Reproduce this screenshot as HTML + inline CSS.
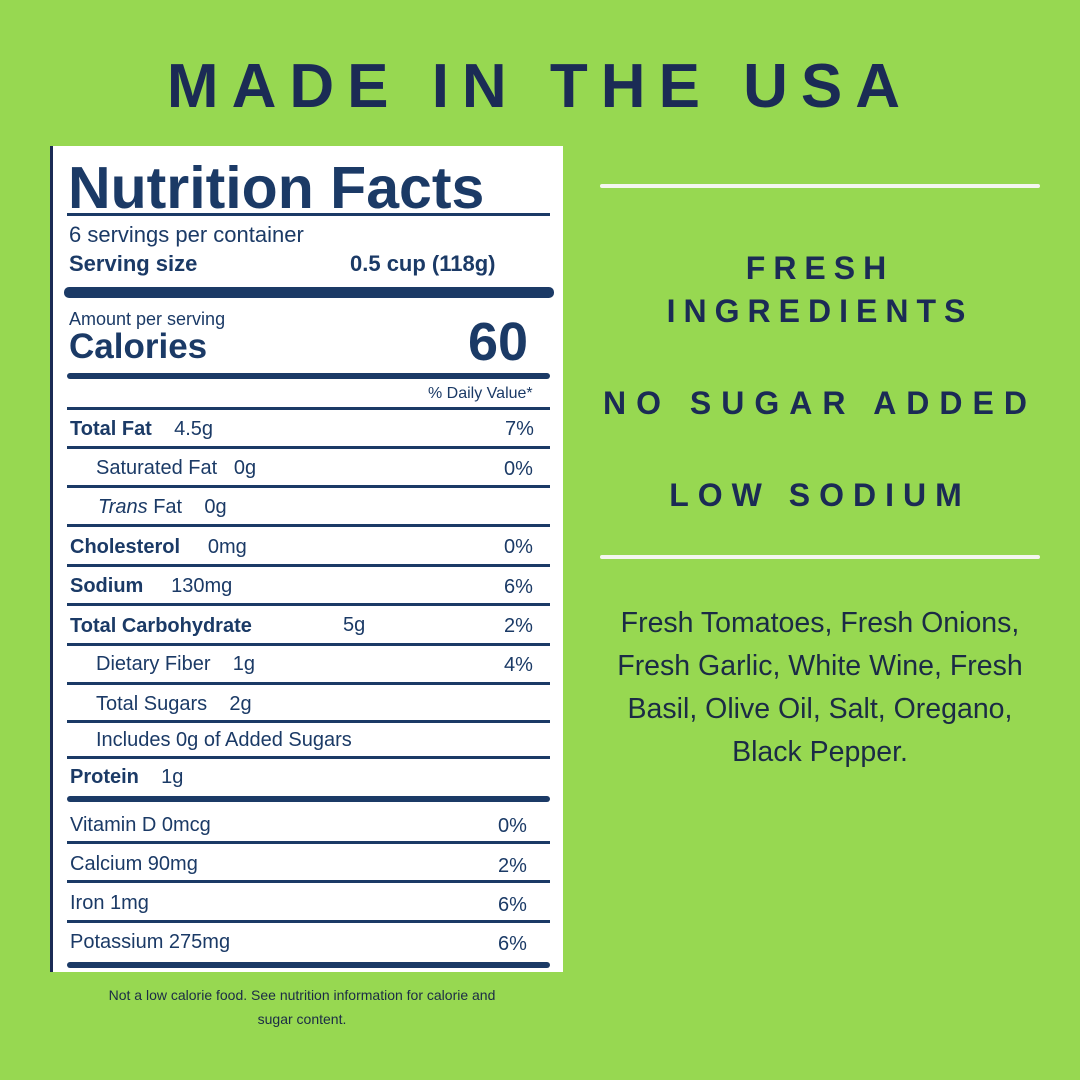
<!DOCTYPE html>
<html><head><style>
body{margin:0;width:1080px;height:1080px;background:#97d851;position:relative;overflow:hidden;font-family:"Liberation Sans",sans-serif;color:#1b2b55}
.a{position:absolute;white-space:nowrap}
.t{font-weight:bold;letter-spacing:0.28em}
.lab{position:absolute;left:50px;top:146px;width:513px;height:826px;background:#fff;border-left:3px solid #1b2b55;box-sizing:border-box}
.ln{position:absolute;left:67px;width:483px;background:#1b3a66}
.r{position:absolute;font-size:20px;color:#1b3a66;white-space:nowrap}
.b{font-weight:bold}
.wl{position:absolute;left:600px;width:440px;height:4px;background:#f4f6ef;border-radius:2px}
</style></head><body>
<div class="a t" style="left:0;width:1080px;text-align:center;top:51px;font-size:62px;letter-spacing:13px;padding-left:0px;box-sizing:border-box">MADE IN THE USA</div>
<div class="lab"></div>
<div class="r b" style="left:68px;top:154px;font-size:59px;letter-spacing:0px">Nutrition Facts</div>
<div class="ln" style="top:213px;height:3px"></div>
<div class="r" style="left:69px;top:222px;font-size:22px">6 servings per container</div>
<div class="r b" style="left:69px;top:251px;font-size:22px">Serving size</div>
<div class="r b" style="left:350px;top:251px;font-size:22px">0.5 cup (118g)</div>
<div class="ln" style="top:287px;left:64px;width:490px;height:11px;border-radius:5px"></div>
<div class="r" style="left:69px;top:309px;font-size:18px">Amount per serving</div>
<div class="r b" style="left:69px;top:327px;font-size:35px">Calories</div>
<div class="r b" style="left:468px;top:311px;font-size:54px">60</div>
<div class="ln" style="top:373px;height:6px;border-radius:3px"></div>
<div class="r" style="left:428px;top:385px;font-size:16px">% Daily Value*</div>
<div class="ln" style="top:407px;height:3px"></div>

<div class="r" style="left:70px;top:418px"><span class="b">Total Fat</span>&nbsp;&nbsp;&nbsp;&nbsp;4.5g</div><div class="r" style="left:505px;top:418px">7%</div>
<div class="ln" style="top:446px;height:3px"></div>
<div class="r" style="left:96px;top:457px">Saturated Fat&nbsp;&nbsp;&nbsp;0g</div><div class="r" style="left:504px;top:458px">0%</div>
<div class="ln" style="top:485px;height:3px"></div>
<div class="r" style="left:98px;top:496px"><i>Trans</i> Fat&nbsp;&nbsp;&nbsp;&nbsp;0g</div>
<div class="ln" style="top:524px;height:3px"></div>
<div class="r" style="left:70px;top:536px"><span class="b">Cholesterol</span>&nbsp;&nbsp;&nbsp;&nbsp;&nbsp;0mg</div><div class="r" style="left:504px;top:536px">0%</div>
<div class="ln" style="top:564px;height:3px"></div>
<div class="r" style="left:70px;top:575px"><span class="b">Sodium</span>&nbsp;&nbsp;&nbsp;&nbsp;&nbsp;130mg</div><div class="r" style="left:504px;top:576px">6%</div>
<div class="ln" style="top:603px;height:3px"></div>
<div class="r b" style="left:70px;top:615px">Total Carbohydrate</div><div class="r" style="left:343px;top:614px">5g</div><div class="r" style="left:504px;top:615px">2%</div>
<div class="ln" style="top:643px;height:3px"></div>
<div class="r" style="left:96px;top:653px">Dietary Fiber&nbsp;&nbsp;&nbsp;&nbsp;1g</div><div class="r" style="left:504px;top:654px">4%</div>
<div class="ln" style="top:682px;height:3px"></div>
<div class="r" style="left:96px;top:693px">Total Sugars&nbsp;&nbsp;&nbsp;&nbsp;2g</div>
<div class="ln" style="top:720px;height:3px"></div>
<div class="r" style="left:96px;top:729px">Includes 0g of Added Sugars</div>
<div class="ln" style="top:756px;height:3px"></div>
<div class="r" style="left:70px;top:766px"><span class="b">Protein</span>&nbsp;&nbsp;&nbsp;&nbsp;1g</div>
<div class="ln" style="top:796px;height:6px;border-radius:3px"></div>
<div class="r" style="left:70px;top:814px">Vitamin D 0mcg</div><div class="r" style="left:498px;top:815px">0%</div>
<div class="ln" style="top:841px;height:3px"></div>
<div class="r" style="left:70px;top:853px">Calcium 90mg</div><div class="r" style="left:498px;top:855px">2%</div>
<div class="ln" style="top:880px;height:3px"></div>
<div class="r" style="left:70px;top:892px">Iron 1mg</div><div class="r" style="left:498px;top:894px">6%</div>
<div class="ln" style="top:920px;height:3px"></div>
<div class="r" style="left:70px;top:931px">Potassium 275mg</div><div class="r" style="left:498px;top:933px">6%</div>
<div class="ln" style="top:962px;height:6px;border-radius:3px"></div>

<div class="a" style="left:52px;width:500px;text-align:center;top:983px;font-size:14px;line-height:24px;color:#1b2b45">Not a low calorie food. See nutrition information for calorie and<br>sugar content.</div>

<div class="wl" style="top:184px"></div>
<div class="wl" style="top:555px"></div>
<div class="a t" style="left:600px;width:440px;text-align:center;top:247px;font-size:32px;line-height:43px;letter-spacing:8px">FRESH<br>INGREDIENTS</div>
<div class="a t" style="left:585px;width:470px;text-align:center;top:385px;font-size:32px;letter-spacing:10px">NO SUGAR ADDED</div>
<div class="a t" style="left:600px;width:440px;text-align:center;top:477px;font-size:32px;letter-spacing:9px">LOW SODIUM</div>
<div class="a" style="left:590px;width:460px;text-align:center;top:602px;font-size:28.5px;line-height:43px;color:#1b2b45">Fresh Tomatoes, Fresh Onions,<br>Fresh Garlic, White Wine, Fresh<br>Basil, Olive Oil, Salt, Oregano,<br>Black Pepper.</div>
</body></html>
